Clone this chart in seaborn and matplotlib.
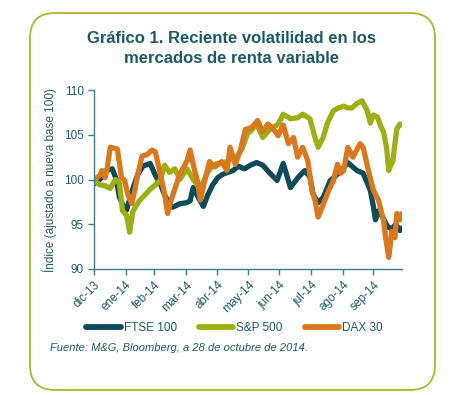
import pandas as pd
import matplotlib
matplotlib.use("Agg")
import matplotlib.pyplot as plt
import seaborn as sns
from matplotlib.patches import FancyBboxPatch

# Data (index, base 100 at 31-dic-2013); days counted from the base date
ftse_days = [0, 4, 8, 12, 18, 22, 25, 29, 32, 35, 39, 43, 48, 55, 60, 65, 69, 74, 77, 84,
             90, 94, 97, 102, 107, 111, 116, 121, 126, 131, 136, 141, 147, 153, 159, 165,
             172, 179, 185, 192, 200, 206, 211, 214, 219, 224, 231, 238, 244, 248, 257,
             263, 270, 273, 275, 278, 282, 287, 291, 295, 299, 301]
ftse_vals = [99.5, 99.8, 100.3, 101.0, 101.2, 100.0, 98.0, 97.0, 96.6, 97.8, 99.3, 100.6,
             101.5, 101.8, 100.5, 99.5, 98.3, 97.2, 96.9, 97.3, 97.4, 97.6, 99.1, 98.0,
             97.0, 98.2, 99.4, 100.2, 100.6, 100.8, 101.0, 101.5, 101.2, 101.6, 101.9,
             101.6, 100.7, 99.9, 101.8, 99.1, 100.3, 101.0, 100.3, 98.4, 97.4, 98.0, 99.9,
             100.6, 101.3, 101.9, 101.0, 100.7, 98.8, 97.0, 95.5, 96.5, 95.8, 94.7, 94.5,
             95.0, 94.3, 94.6]

sp_days = [0, 6, 11, 16, 21, 25, 28, 32, 35, 38, 42, 45, 50, 55, 60, 65, 69, 74, 79, 84,
           91, 97, 104, 111, 115, 120, 126, 133, 140, 145, 150, 154, 159, 165, 172, 180,
           185, 192, 199, 204, 211, 216, 219, 224, 228, 234, 239, 244, 248, 252, 257, 262,
           267, 270, 273, 277, 280, 283, 286, 288, 290, 292, 294, 296, 299, 301]
sp_vals = [99.9, 99.4, 99.3, 99.0, 100.0, 99.6, 96.5, 96.0, 94.1, 96.4, 97.2, 97.7, 98.3,
           98.9, 99.4, 99.9, 101.6, 100.8, 101.2, 100.0, 101.2, 100.0, 99.0, 100.8, 101.4,
           101.8, 101.8, 102.2, 102.6, 103.5, 105.1, 105.5, 106.2, 104.7, 105.6, 106.2,
           107.3, 106.8, 106.9, 107.3, 106.8, 104.7, 103.6, 104.7, 106.3, 107.7, 108.0,
           108.2, 108.0, 108.0, 108.5, 108.8, 107.7, 106.3, 107.2, 107.0, 106.0, 105.3,
           103.5, 101.0, 101.6, 102.0, 104.0, 105.7, 106.2, 106.1]

dax_days = [0, 3, 6, 8, 11, 13, 16, 20, 23, 27, 30, 33, 37, 40, 43, 47, 52, 57, 60, 65, 69,
            72, 76, 81, 84, 91, 94, 97, 101, 104, 109, 113, 118, 125, 130, 133, 138, 143,
            148, 154, 160, 165, 170, 175, 180, 185, 190, 195, 199, 204, 209, 213, 216, 219,
            223, 228, 234, 238, 241, 244, 248, 253, 260, 263, 268, 273, 278, 283, 285, 288,
            291, 294, 296, 299, 301]
dax_vals = [100.0, 100.2, 100.5, 101.0, 100.2, 101.2, 103.6, 103.5, 103.4, 100.2, 99.9,
            98.4, 97.3, 98.8, 100.6, 102.6, 102.8, 103.3, 103.1, 100.6, 98.5, 96.2, 97.9,
            99.6, 100.6, 102.1, 103.3, 101.7, 99.9, 97.7, 100.2, 102.0, 101.4, 102.0, 101.0,
            103.6, 101.7, 103.2, 105.6, 105.8, 106.6, 105.3, 106.2, 105.7, 104.9, 106.1,
            104.0, 104.7, 102.5, 103.6, 102.1, 98.8, 97.7, 95.8, 96.9, 98.4, 99.9, 101.7,
            100.7, 101.0, 103.6, 102.5, 104.0, 103.6, 101.1, 98.8, 97.7, 95.4, 93.5, 91.3,
            94.2, 93.5, 96.2, 95.5, 96.2]

series = ["FTSE 100", "S&P 500", "DAX 30"]
colors = ["#0f4c59", "#9bb015", "#d9781c"]
month_labels = ["dic-13", "ene-14", "feb-14", "mar-14", "abr-14", "may-14",
                "jun-14", "jul-14", "ago-14", "sep-14"]

base = pd.Timestamp("2013-12-31")
frames = []
for name, d, v in zip(series, [ftse_days, sp_days, dax_days], [ftse_vals, sp_vals, dax_vals]):
    frames.append(pd.DataFrame({"fecha": base + pd.to_timedelta(d, unit="D"),
                                "valor": v, "indice": name}))
df = pd.concat(frames, ignore_index=True)

sns.set_style("white")
plt.rcParams["font.family"] = ["Liberation Sans", "DejaVu Sans"]

teal = "#1b5a66"
axis_col = "#3f7c87"

fig = plt.figure(figsize=(4.6, 3.95), dpi=100)
ax = fig.add_axes([0.204, 0.319, 0.670, 0.453])

sns.lineplot(data=df, x="fecha", y="valor", hue="indice", hue_order=series,
             palette=colors, linewidth=3.8, ax=ax)

ax.set_ylim(90, 110)
ax.set_yticks([90, 95, 100, 105, 110])
ax.set_xlim(base, pd.Timestamp("2014-10-28"))
ticks = pd.date_range(base, periods=len(month_labels), freq=pd.offsets.MonthEnd())
ax.set_xticks(ticks)
ax.set_xticklabels(month_labels, rotation=45, ha="right", rotation_mode="anchor")

sns.despine(ax=ax)
for s in ["left", "bottom"]:
    ax.spines[s].set_color(axis_col)
    ax.spines[s].set_linewidth(1.0)
ax.tick_params(axis="both", colors=axis_col, labelcolor=teal, labelsize=8.5,
               length=4, width=1.0, direction="out", left=True, bottom=True, pad=3)

ax.set_xlabel("")
ax.set_ylabel("Índice (ajustado a nueva base 100)", fontsize=8.5, color=teal, labelpad=5)

leg = ax.legend(loc="center", bbox_to_anchor=(0.51, 0.170), bbox_transform=fig.transFigure,
                ncol=3, frameon=False, fontsize=8.5, handlelength=2.9, handletextpad=0.25,
                columnspacing=1.9, labelcolor=teal)
for h in leg.get_lines():
    h.set_linewidth(4.2)

fig.text(0.504, 0.877, "Gráfico 1. Reciente volatilidad en los\nmercados de renta variable",
         ha="center", va="center", fontsize=12, fontweight="bold", color=teal,
         linespacing=1.35)
fig.text(0.109, 0.119, "Fuente: M&G, Bloomberg, a 28 de octubre de 2014.",
         ha="left", va="center", fontsize=8, style="italic", color=teal)

box = FancyBboxPatch((0.30, 0.05), 4.05, 3.77, boxstyle="round,pad=0,rounding_size=0.25",
                     transform=fig.dpi_scale_trans, fill=False, edgecolor="#b3b42a",
                     linewidth=1.3)
fig.add_artist(box)

fig.savefig("out.png", dpi=100)
